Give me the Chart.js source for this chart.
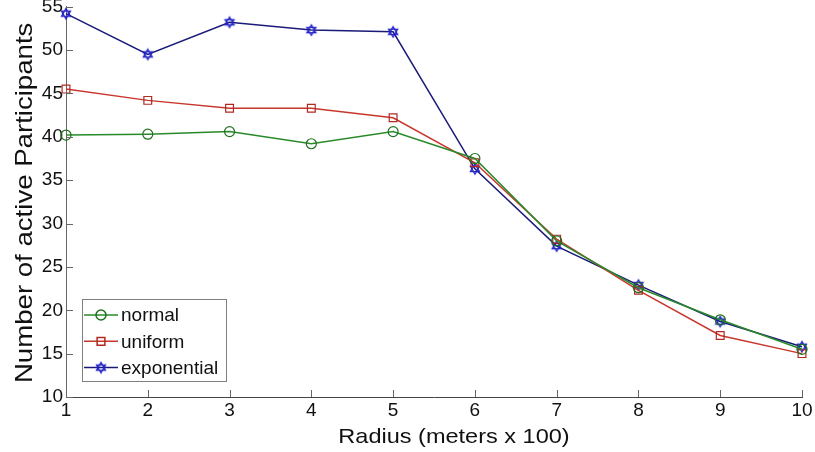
<!DOCTYPE html>
<html>
<head>
<meta charset="utf-8">
<script src="https://cdn.jsdelivr.net/npm/chart.js@4/dist/chart.umd.min.js"></script>
<style>
  html, body { margin: 0; padding: 0; background: #fff; }
  #wrap { width: 815px; height: 452px; position: relative; }
</style>
</head>
<body>
<div id="wrap"><canvas id="c" width="815" height="452"></canvas></div>
<script>
// Radius in hundreds of meters
const radius = [1, 2, 3, 4, 5, 6, 7, 8, 9, 10];

// Number of active participants per distribution
const normalVals      = [40.2, 40.3, 40.6, 39.2, 40.6, 37.5, 28.0, 22.6, 18.9, 15.5];
const uniformVals     = [45.5, 44.2, 43.3, 43.3, 42.2, 37.0, 28.2, 22.3, 17.1, 15.0];
const exponentialVals = [54.2, 49.5, 53.2, 52.3, 52.1, 36.3, 27.4, 22.9, 18.7, 15.8];

const seriesNames = ['normal', 'uniform', 'exponential'];

const yTicks = [10, 15, 20, 25, 30, 35, 40, 45, 50, 55];

const xTitle = 'Radius (meters x 100)';
const yTitle = 'Number of active Participants';

const FONT = '"Liberation Sans", Arial, Helvetica, sans-serif';

// Six-pointed star marker drawn once into a small canvas
function hexagram(color) {
  const s = 14, c = document.createElement('canvas');
  c.width = s; c.height = s;
  const g = c.getContext('2d');
  const cx = s / 2, cy = s / 2, r = 5.2;
  g.strokeStyle = color; g.lineWidth = 1.3; g.lineJoin = 'miter';
  [ -Math.PI / 2, Math.PI / 2 ].forEach(a0 => {
    g.beginPath();
    for (let i = 0; i < 3; i++) {
      const a = a0 + i * 2 * Math.PI / 3;
      const x = cx + r * Math.cos(a), y = cy + r * Math.sin(a);
      i ? g.lineTo(x, y) : g.moveTo(x, y);
    }
    g.closePath(); g.stroke();
  });
  return c;
}
const starImg = hexagram('#2222c8');

const toPoints = vals => radius.map((r, i) => ({ x: r, y: vals[i] }));

// Inward tick marks along the left and bottom axes
const inwardTicks = {
  id: 'inwardTicks',
  afterDraw(chart) {
    const { ctx, scales: { x, y }, chartArea: a } = chart;
    const len = 7;
    ctx.save();
    ctx.strokeStyle = '#666';
    ctx.lineWidth = 1;
    x.ticks.forEach(t => {
      const px = Math.round(x.getPixelForValue(t.value)) + 0.5;
      ctx.beginPath(); ctx.moveTo(px, a.bottom); ctx.lineTo(px, a.bottom - len); ctx.stroke();
    });
    y.ticks.forEach(t => {
      const py = Math.round(y.getPixelForValue(t.value)) + 0.5;
      ctx.beginPath(); ctx.moveTo(a.left, py); ctx.lineTo(a.left + len, py); ctx.stroke();
    });
    ctx.restore();
  }
};

// Axis labels, set in a slightly wide face
const axisTitles = {
  id: 'axisTitles',
  afterDraw(chart) {
    const { ctx, chartArea: a } = chart;
    ctx.save();
    ctx.fillStyle = '#111';
    ctx.textAlign = 'center';
    ctx.textBaseline = 'middle';

    ctx.save();
    ctx.font = '21px ' + FONT;
    ctx.translate(a.left + (a.right - a.left) / 2 + 20, chart.height - 15);
    ctx.scale(1.12, 1);
    ctx.fillText(xTitle, 0, 0);
    ctx.restore();

    ctx.save();
    ctx.font = '24px ' + FONT;
    ctx.translate(25, (a.top + a.bottom) / 2 + 1);
    ctx.rotate(-Math.PI / 2);
    ctx.scale(1.15, 1);
    ctx.fillText(yTitle, 0, 0);
    ctx.restore();

    ctx.restore();
  }
};

// Boxed legend in the lower-left corner of the plot
const boxLegend = {
  id: 'boxLegend',
  afterDatasetsDraw(chart) {
    const { ctx, chartArea: a } = chart;
    const bx = a.left + 16, by = a.bottom - 98, bw = 144, bh = 82;
    ctx.save();
    ctx.fillStyle = '#fff';
    ctx.fillRect(bx, by, bw, bh);
    ctx.strokeStyle = '#808080';
    ctx.lineWidth = 1;
    ctx.strokeRect(bx + 0.5, by + 0.5, bw, bh);
    chart.data.datasets.forEach((ds, i) => {
      const ry = by + 16 + i * 26.3;
      ctx.strokeStyle = ds.borderColor;
      ctx.lineWidth = 1.5;
      ctx.beginPath(); ctx.moveTo(bx + 2, ry); ctx.lineTo(bx + 36, ry); ctx.stroke();
      ctx.strokeStyle = ds.pointBorderColor;
      ctx.fillStyle = 'rgba(0,0,0,0)';
      Chart.helpers.drawPoint(ctx, {
        pointStyle: ds.pointStyle, radius: ds.pointRadius, rotation: 0,
        borderWidth: ds.pointBorderWidth
      }, bx + 19, ry);
      ctx.fillStyle = '#111';
      ctx.font = '19px ' + FONT;
      ctx.textBaseline = 'middle';
      ctx.textAlign = 'left';
      ctx.fillText(ds.label, bx + 39, ry + 1);
    });
    ctx.restore();
  }
};

new Chart(document.getElementById('c'), {
  type: 'line',
  data: {
    datasets: [
      {
        label: seriesNames[0], data: toPoints(normalVals),
        borderColor: '#2a8a2a', borderWidth: 1.5,
        pointStyle: 'circle', pointRadius: 5, pointBorderWidth: 1.2,
        pointBorderColor: '#1f701f', pointBackgroundColor: 'rgba(0,0,0,0)'
      },
      {
        label: seriesNames[1], data: toPoints(uniformVals),
        borderColor: '#c8372d', borderWidth: 1.5,
        pointStyle: 'rect', pointRadius: 5.5, pointBorderWidth: 1.2,
        pointBorderColor: '#b02a22', pointBackgroundColor: 'rgba(0,0,0,0)'
      },
      {
        label: seriesNames[2], data: toPoints(exponentialVals),
        borderColor: '#1a1a78', borderWidth: 1.5,
        pointStyle: starImg, pointRadius: 5, pointBorderWidth: 1.2,
        pointBorderColor: '#2222c8', pointBackgroundColor: '#2222c8'
      }
    ]
  },
  options: {
    responsive: false,
    animation: false,
    clip: false,
    layout: { padding: { top: 4, right: 13, bottom: 0, left: 0 } },
    elements: { line: { tension: 0 } },
    plugins: { legend: { display: false }, tooltip: { enabled: false } },
    scales: {
      x: {
        type: 'linear', min: 1, max: 10,
        afterFit(s) { s.height = 55; s.paddingLeft = 0; s.paddingRight = 0; },
        afterBuildTicks(s) { s.ticks = radius.map(v => ({ value: v })); },
        ticks: { color: '#111', padding: 2, font: { family: FONT, size: 19 } },
        grid: { display: true, drawOnChartArea: false, drawTicks: false },
        border: { display: true, color: '#444', width: 1 },
        title: { display: false }
      },
      y: {
        min: 10, max: 55,
        afterFit(s) { s.width = 66; s.paddingTop = 0; s.paddingBottom = 0; },
        afterBuildTicks(s) { s.ticks = yTicks.map(v => ({ value: v })); },
        ticks: { color: '#111', padding: 3, font: { family: FONT, size: 19 } },
        grid: { display: true, drawOnChartArea: false, drawTicks: false },
        border: { display: true, color: '#666', width: 1 },
        title: { display: false }
      }
    }
  },
  plugins: [inwardTicks, boxLegend, axisTitles]
});
</script>
</body>
</html>
